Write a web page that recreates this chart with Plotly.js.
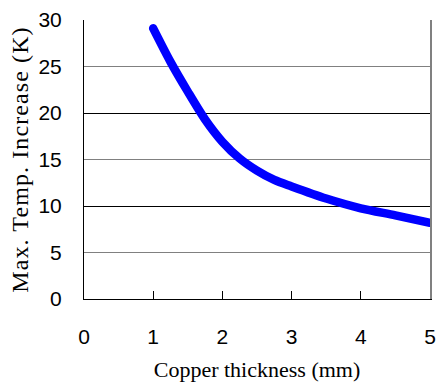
<!DOCTYPE html>
<html>
<head>
<meta charset="utf-8">
<script src="https://cdn.plot.ly/plotly-3.0.1.min.js"></script>
<style>
html,body{margin:0;padding:0;background:#fff;}
#chart{width:438px;height:387px;}
.g-ytitle text{letter-spacing:1.1px;}
.scatterlayer path.js-line{stroke-linecap:round;stroke-linejoin:round;}
</style>
</head>
<body>
<div id="chart"></div>
<script>
// Copper thickness (mm)
const thickness = [1, 1.25, 1.5, 1.75, 2, 2.25, 2.5, 2.75, 3, 3.5, 4, 4.5, 5];
// Max. temperature increase (K)
const tempIncrease = [29.1, 25.5, 22.3, 19.3, 16.9, 15.1, 13.8, 12.8, 12.1, 10.8, 9.75, 9.0, 8.2];
const xTicks = [0, 1, 2, 3, 4, 5];
const yTicks = [0, 5, 10, 15, 20, 25, 30];
const yMajorGrid = [10, 20, 30];

const traces = [
  {
    x: thickness, y: tempIncrease, type: 'scatter', mode: 'lines',
    line: {color: '#0000ff', width: 8.5, shape: 'spline', smoothing: 0.8},
    hoverinfo: 'skip', showlegend: false
  },
  {
    x: [0, 5], y: [0, 30], xaxis: 'x', yaxis: 'y2', type: 'scatter', mode: 'none',
    hoverinfo: 'skip', showlegend: false
  }
];

const layout = {
  width: 438, height: 387,
  margin: {l: 84, r: 8, t: 20, b: 88},
  paper_bgcolor: '#fff', plot_bgcolor: '#fff',
  font: {family: 'Liberation Sans, Arial, sans-serif', color: '#000'},
  xaxis: {
    range: [0, 5], tickvals: xTicks, ticktext: xTicks.map(String),
    showgrid: false, zeroline: false,
    showline: true, linecolor: '#000', linewidth: 1, mirror: false,
    ticks: 'inside', ticklen: 8, tickcolor: '#000', tickwidth: 1,
    ticklabelstandoff: 19,
    tickfont: {size: 21, family: 'Liberation Sans, Arial, sans-serif', color: '#000'},
    title: {text: 'Copper thickness (mm)', standoff: 14,
            font: {size: 22, family: 'Liberation Serif, Times New Roman, serif', color: '#000'}}
  },
  yaxis: {
    range: [0, 30], tickvals: yTicks, ticktext: yTicks.map(String),
    showgrid: true, gridcolor: '#808080', gridwidth: 1, zeroline: false,
    showline: true, linecolor: '#000', linewidth: 1, mirror: false,
    ticks: '', ticklabelstandoff: 17,
    tickfont: {size: 21, family: 'Liberation Sans, Arial, sans-serif', color: '#000'},
    title: {text: 'Max. Temp. Increase (K)', standoff: 3,
            font: {size: 24, family: 'Liberation Serif, Times New Roman, serif', color: '#000'}}
  },
  yaxis2: {
    overlaying: 'y', side: 'right', range: [0, 30], tickvals: yMajorGrid,
    showgrid: true, gridcolor: '#000', gridwidth: 1, zeroline: false,
    showticklabels: false, showline: true, linecolor: '#808080', linewidth: 1.5, ticks: ''
  }
};

Plotly.newPlot('chart', traces, layout, {staticPlot: true, displayModeBar: false});
</script>
</body>
</html>
